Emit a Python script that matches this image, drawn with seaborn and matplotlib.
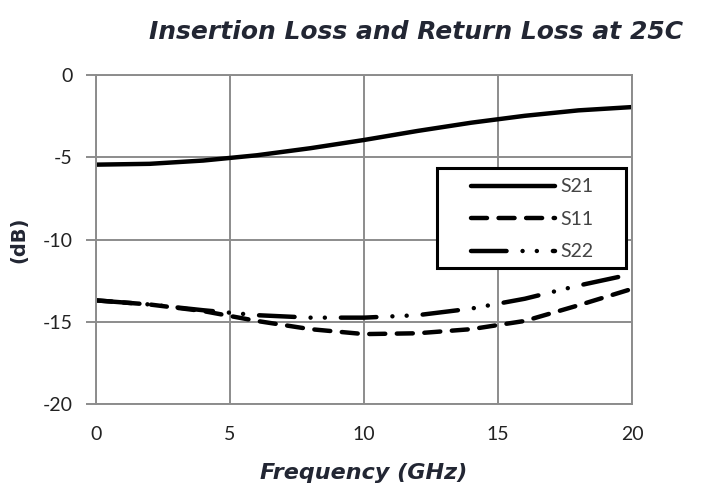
import pandas as pd
import matplotlib
matplotlib.use("Agg")
import matplotlib.pyplot as plt
import matplotlib.patches as mpatches
import seaborn as sns

sns.set_theme(style="white")
plt.rcParams['font.family'] = ['Lato', 'DejaVu Sans']
plt.rcParams['axes.unicode_minus'] = False

freq = [0, 2, 4, 6, 8, 10, 12, 14, 16, 18, 20]
s21 = [-5.45, -5.4, -5.2, -4.88, -4.45, -3.95, -3.4, -2.9, -2.48, -2.15, -1.95]
s11 = [-13.7, -13.95, -14.35, -14.95, -15.45, -15.75, -15.7, -15.45, -14.95, -14.0, -13.0]
s22 = [-13.7, -13.95, -14.3, -14.6, -14.75, -14.75, -14.6, -14.2, -13.6, -12.8, -12.1]
series_names = ['S21', 'S11', 'S22']

line_styles = {
    'S21': '-',
    'S11': (0, (3.6, 2.6)),
    'S22': (0, (8, 3.6, 0.01, 3.2, 0.01, 3.6)),
}

fig = plt.figure(figsize=(7.23, 4.97), dpi=100)
ax = fig.add_axes([0.1328, 0.1871, 0.7414, 0.6620])

for name, vals in zip(series_names, [s21, s11, s22]):
    sns.lineplot(x=freq, y=vals, ax=ax, color='black', lw=3.2, label=name,
                 linestyle=line_styles[name], dash_capstyle='round',
                 solid_capstyle='round')

ax.set_xlim(0, 20)
ax.set_ylim(-20, 0)
ax.set_xticks([0, 5, 10, 15, 20])
ax.set_yticks([0, -5, -10, -15, -20])
ax.grid(True, color='#8c8c8c', lw=1.4)
for sp in ax.spines.values():
    sp.set_color('#8c8c8c')
    sp.set_linewidth(1.4)
ax.tick_params(axis='y', length=7, width=1.4, color='#8c8c8c',
               labelsize=14, labelcolor='#222222', pad=10, direction='out',
               left=True)
ax.tick_params(axis='x', length=0, labelsize=14, labelcolor='#222222', pad=16)

ax.set_xlabel('Frequency (GHz)', fontsize=16, fontweight='bold', style='italic',
              family='DejaVu Sans', color='#222633', labelpad=14)
ax.set_ylabel('(dB)', fontsize=14, fontweight='bold', family='DejaVu Sans',
              color='#222633', labelpad=10)

fig.text(0.945, 0.935, 'Insertion Loss and Return Loss at 25C', ha='right',
         va='center', fontsize=18, fontweight='bold', style='italic',
         family='DejaVu Sans', color='#222633')

# legend box drawn separately so the padding can be wider than tall
box = mpatches.Rectangle((0.636, 0.413), 0.353, 0.304, transform=ax.transAxes,
                         facecolor='white', edgecolor='black', lw=2.2, zorder=4)
ax.add_patch(box)
leg = ax.legend(loc='upper left', bbox_to_anchor=(0.700, 0.686),
                frameon=False, fontsize=14, handlelength=4.3,
                handletextpad=0.3, labelspacing=0.8, borderpad=0,
                borderaxespad=0)
leg.set_zorder(5)
for t in leg.get_texts():
    t.set_color('#444444')

fig.savefig('out.png', dpi=100, facecolor='white')
